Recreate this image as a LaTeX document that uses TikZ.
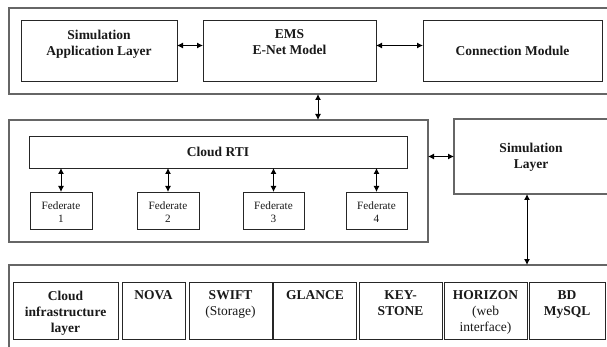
\documentclass[tikz,border=0pt]{standalone}
\usepackage{fontspec}
\setmainfont{Liberation Serif}
\usetikzlibrary{arrows.meta}
\begin{document}
\begin{tikzpicture}[x=1pt,y=-1pt,
  outerbox/.style={draw=black!60, line width=1.1pt, inner sep=0pt, outer sep=0pt, anchor=north west},
  box/.style={draw=black!85, line width=0.8pt, inner sep=0pt, outer sep=0pt, anchor=north west},
  bt/.style={font=\fontsize{13.5}{16}\selectfont\bfseries, align=center, inner sep=0pt, text=black!90},
  rt/.style={font=\fontsize{13.5}{15.5}\selectfont, align=center, inner sep=0pt, text=black!90},
  ft/.style={font=\fontsize{11.2}{13}\selectfont, align=center, inner sep=0pt, text=black!90},
  arr/.style={{Latex[length=6pt,width=6pt]}-{Latex[length=6pt,width=6pt]}, line width=1pt, black}
]
\useasboundingbox (0,0) rectangle (607,347);
\clip (0,0) rectangle (607,347);
\fill[white] (0,0) rectangle (607,347);

% layers
\node[outerbox, minimum width=620pt, minimum height=86pt] (toplayer) at (9,8) {};
\node[outerbox, minimum width=419pt, minimum height=122pt] (midlayer) at (9,120) {};
\node[outerbox, minimum width=170pt, minimum height=75pt] (simlayer) at (454,119) {};
\node[outerbox, minimum width=620pt, minimum height=100pt] (botlayer) at (9,265) {};

% top row
\node[box, minimum width=156pt, minimum height=61pt] (sal) at (21,20) {};
\node[box, minimum width=173pt, minimum height=61pt] (ems) at (203,20) {};
\node[box, minimum width=179pt, minimum height=61pt] (cm) at (423,20) {};
\node[bt, anchor=north] (salt) at ([yshift=-9.5pt]sal.north) {Simulation\\Application Layer};
\node[bt, anchor=north] (emst) at ([yshift=-9.5pt]ems.north) {EMS\\E-Net Model};
\node[bt] (cmt) at (cm.center) {Connection Module};

% middle
\node[box, minimum width=378pt, minimum height=32pt] (rti) at (29,136) {};
\node[bt] (rtit) at (rti.center) {Cloud RTI};
\node[box, minimum width=62pt, minimum height=37pt] (f1) at (30,192) {};
\node[box, minimum width=62pt, minimum height=37pt] (f2) at (137,192) {};
\node[box, minimum width=61pt, minimum height=37pt] (f3) at (243,192) {};
\node[box, minimum width=61pt, minimum height=37pt] (f4) at (346,192) {};
\node[ft] (f1t) at ([yshift=-1.5pt]f1.center) {Federate\\1};
\node[ft] (f2t) at ([yshift=-1.5pt]f2.center) {Federate\\2};
\node[ft] (f3t) at ([yshift=-1.5pt]f3.center) {Federate\\3};
\node[ft] (f4t) at ([yshift=-1.5pt]f4.center) {Federate\\4};
\node[bt] (slt) at ([xshift=-8pt,yshift=-0.5pt]simlayer.center) {Simulation\\Layer};

% bottom cells
\node[box, minimum width=105pt, minimum height=57pt] (c1) at (13,282) {};
\node[box, minimum width=63pt, minimum height=57pt] (c2) at (122,282) {};
\node[box, minimum width=83pt, minimum height=57pt] (c3) at (189,282) {};
\node[box, minimum width=83pt, minimum height=57pt] (c4) at (273.5,282) {};
\node[box, minimum width=83pt, minimum height=57pt] (c5) at (359,282) {};
\node[box, minimum width=83pt, minimum height=57pt] (c6) at (444,282) {};
\node[box, minimum width=76pt, minimum height=57pt] (c7) at (529,282) {};
\node[bt, anchor=north] (c1t) at ([yshift=-8.5pt]c1.north) {Cloud\\infrastructure\\layer};
\node[bt, anchor=north] (c2t) at ([yshift=-8.5pt]c2.north) {NOVA};
\node[bt, anchor=north] (c3t) at ([yshift=-8.5pt]c3.north) {SWIFT\\\mdseries(Storage)};
\node[bt, anchor=north] (c4t) at ([yshift=-8.5pt]c4.north) {GLANCE};
\node[bt, anchor=north] (c5t) at ([yshift=-8.5pt]c5.north) {KEY-\\STONE};
\node[bt, anchor=north] (c6t) at ([yshift=-8.5pt]c6.north) {HORIZON\\\mdseries(web\\\mdseries interface)};
\node[bt, anchor=north] (c7t) at ([yshift=-8.5pt]c7.north) {BD\\MySQL};

% connectors
\draw[arr] ([yshift=5pt]sal.east) -- ([yshift=5pt]ems.west);
\draw[arr] ([yshift=5pt]ems.east) -- ([yshift=5pt]cm.west);
\draw[arr] ([xshift=28.5pt]ems.south |- toplayer.south) -- ([xshift=28.5pt]ems.south |- midlayer.north);
\draw[arr] (rti.south -| f1.north) -- (f1.north);
\draw[arr] (rti.south -| f2.north) -- (f2.north);
\draw[arr] (rti.south -| f3.north) -- (f3.north);
\draw[arr] (rti.south -| f4.north) -- (f4.north);
\draw[arr] (simlayer.west -| midlayer.east) -- (simlayer.west);
\draw[arr] ([xshift=-12pt]simlayer.south) -- ([xshift=-12pt]simlayer.south |- botlayer.north);
\end{tikzpicture}
\end{document}
